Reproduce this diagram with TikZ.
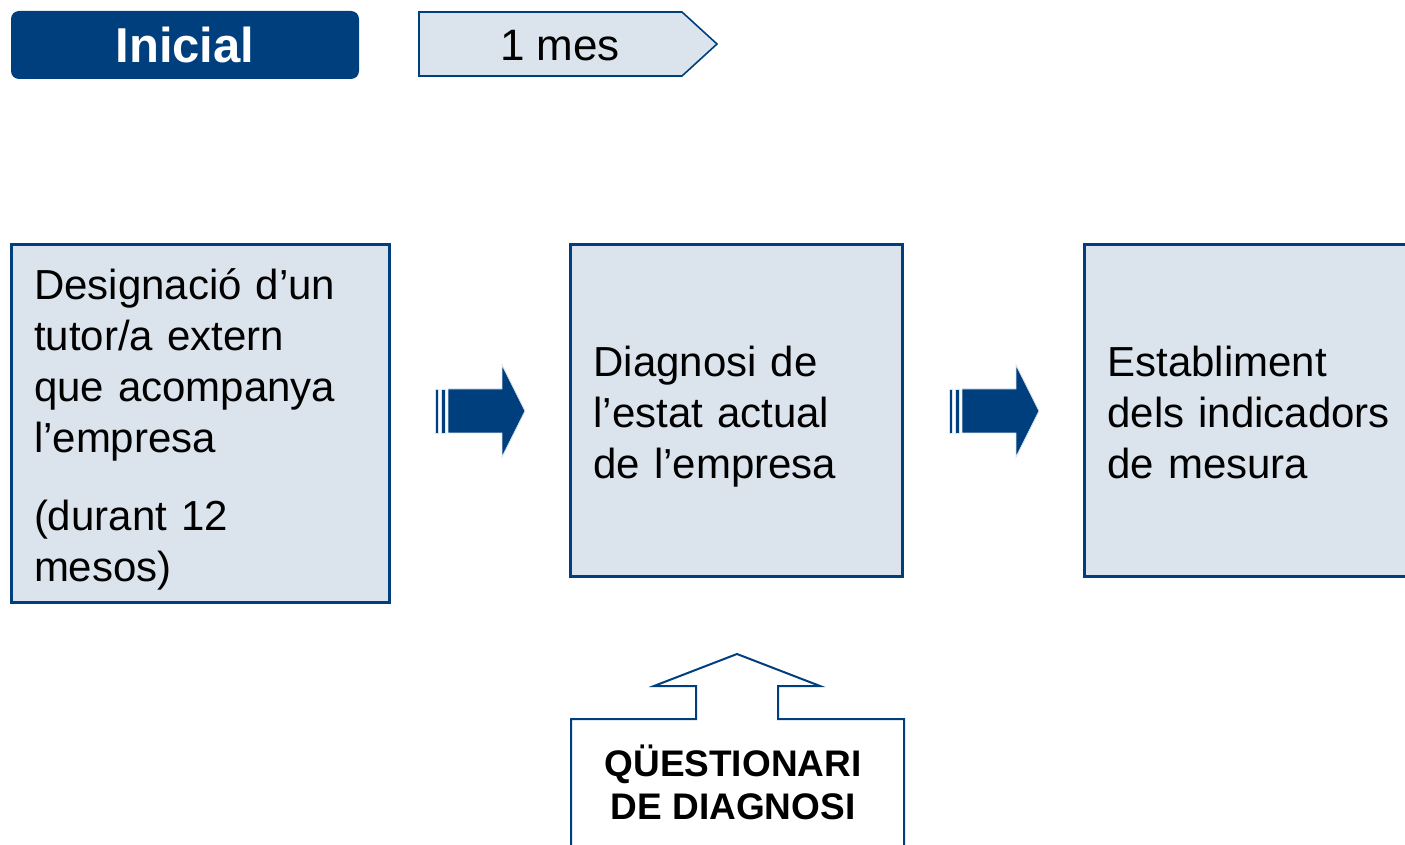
\documentclass[tikz,border=0pt]{standalone}
\usepackage{fontspec}
\setmainfont{Liberation Sans}
\definecolor{dblue}{RGB}{0,63,125}
\definecolor{lblue}{RGB}{219,228,237}
\newcommand{\toppad}{\rule{0pt}{21pt}}
\newcommand{\botpad}{\rule[-4.5pt]{0pt}{0pt}}
\begin{document}
\begin{tikzpicture}[x=0.5pt,y=-0.5pt]
\useasboundingbox (0,0) rectangle (1405,845);
\tikzset{
  stagebox/.style={draw=dblue, line width=1.5pt, fill=lblue, anchor=north west, outer sep=0pt,
    inner xsep=11.5pt, inner ysep=0pt, align=left, font=\fontsize{21}{25.5}\selectfont},
  blockarrow/.pic={
    \fill[dblue, draw=lblue, line width=0.4pt] (0,-22) rectangle (3,22);
    \fill[dblue, draw=lblue, line width=0.4pt] (6,-22) rectangle (10,22);
    \fill[dblue, draw=lblue, line width=0.4pt] (13,-22) -- (67,-22) -- (67,-46) -- (90,0) -- (67,46) -- (67,22) -- (13,22) -- cycle;
  }
}
% header
\node[fill=dblue, rounded corners=4pt, minimum width=174pt, minimum height=34pt, text=white,
  font=\bfseries\fontsize{24.5}{28}\selectfont] (ini) at (185,45) {Inicial};
\draw[dblue, line width=0.8pt, fill=lblue] (419,12) -- (682,12) -- (717,44) -- (682,76) -- (419,76) -- cycle;
\node[font=\fontsize{22}{26}\selectfont] (mes) at (560,46) {1 mes};
% boxes
\node[stagebox, text width=166pt, minimum width=189pt, minimum height=179pt] (b1) at (11,245)
  {\toppad Designació d’un\\tutor/a extern\\que acompanya\\l’empresa\\[13.5pt](durant 12\\mesos)\botpad};
\node[stagebox, text width=143pt, minimum width=166pt, minimum height=166pt] (b2) at (570.5,245)
  {\toppad Diagnosi de\\l’estat actual\\de l’empresa\botpad};
\node[stagebox, text width=155pt, minimum width=178pt, minimum height=166pt] (b3) at (1084.5,245)
  {\toppad Establiment\\dels indicadors\\de mesura\botpad};
% arrows
\pic at (435,411) {blockarrow};
\pic at (949,411) {blockarrow};
% callout
\draw[dblue, line width=1pt] (571,850) -- (571,719) -- (696,719) -- (696,686) -- (654,686) -- (737,654)
  -- (820,686) -- (778,686) -- (778,719) -- (904,719) -- (904,850);
\node[align=center, font=\bfseries\fontsize{18.5}{21.5}\selectfont] (qd) at (733,782) {QÜESTIONARI\\DE DIAGNOSI};
\end{tikzpicture}
\end{document}
